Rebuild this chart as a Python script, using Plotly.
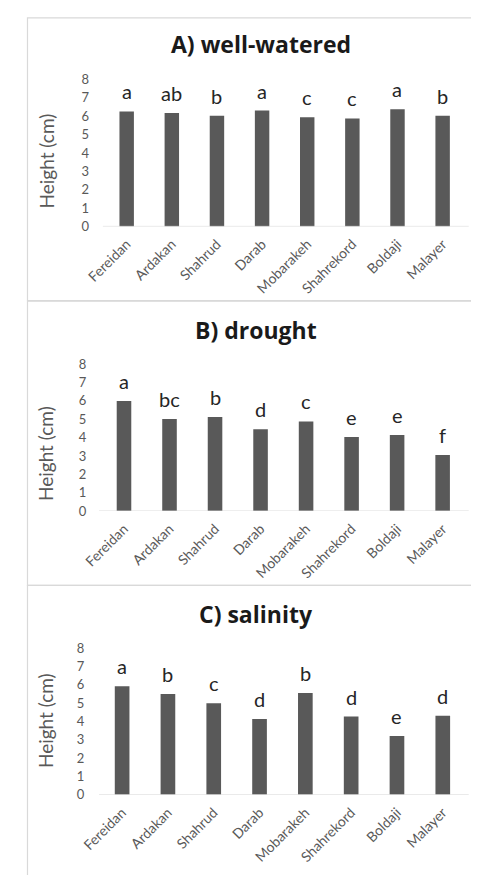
import plotly.graph_objects as go

W, H = 479, 875
OFF = 8  # page offset of the figure inside the browser window

sites = ["Fereidan", "Ardakan", "Shahrud", "Darab", "Mobarakeh", "Shahrekord", "Boldaji", "Malayer"]
well_watered = [6.26, 6.18, 6.02, 6.31, 5.95, 5.88, 6.38, 6.02]
drought = [5.99, 5.01, 5.13, 4.46, 4.88, 4.03, 4.15, 3.05]
salinity = [5.93, 5.50, 5.00, 4.14, 5.55, 4.27, 3.21, 4.32]
letters_ww = ["a", "ab", "b", "a", "c", "c", "a", "b"]
letters_dr = ["a", "bc", "b", "d", "c", "e", "e", "f"]
letters_sa = ["a", "b", "c", "d", "b", "d", "e", "d"]
titles = ["A) well-watered", "B) drought", "C) salinity"]
y_ticks = [0, 1, 2, 3, 4, 5, 6, 7, 8]

FONT = "Lato, Open Sans, sans-serif"
TFONT = "Open Sans, Lato, sans-serif"
GRAY = "#595959"

def px_x(x):
    return (x - OFF) / W

def px_y(y):
    return 1 - (y - OFF) / H

panels = [
    dict(vals=well_watered, letters=letters_ww, title=titles[0],
         xd=(88.3, 464.3), yd=(72.7, 222.3), box=(8.5, 10, 500, 298),
         tpos=(252, 37), ytpos=156, base=(87, 468)),
    dict(vals=drought, letters=letters_dr, title=titles[1],
         xd=(85.3, 464.5), yd=(362.7, 512.3), box=(8.5, 298.5, 500, 588),
         tpos=(246, 328), ytpos=454, base=(83, 468)),
    dict(vals=salinity, letters=letters_sa, title=titles[2],
         xd=(83.2, 464.8), yd=(652, 801.3), box=(8.5, 588, 500, 900),
         tpos=(246, 617), ytpos=726, base=(83, 468)),
]

fig = go.Figure()
annotations = []
shapes = []
layout_axes = {}

for i, p in enumerate(panels):
    n = "" if i == 0 else str(i + 1)
    xa, ya = "x" + n, "y" + n
    fig.add_trace(go.Bar(x=sites, y=p["vals"], xaxis=xa, yaxis=ya,
                         marker=dict(color=GRAY, line=dict(width=0)),
                         width=0.32, showlegend=False, hoverinfo="x+y"))
    layout_axes["xaxis" + n] = dict(
        domain=[px_x(p["xd"][0]), px_x(p["xd"][1])], anchor=ya,
        type="category", categoryorder="array", categoryarray=sites,
        range=[-0.5, 7.5], tickangle=-45, showline=False, showgrid=False,
        ticks="", ticklabelstandoff=6,
        tickfont=dict(family=FONT, size=14, color=GRAY), fixedrange=True)
    layout_axes["yaxis" + n] = dict(
        domain=[px_y(p["yd"][1]), px_y(p["yd"][0])], anchor=xa,
        range=[0, 8], tickvals=y_ticks, showgrid=False, showline=False,
        zeroline=False, ticks="", ticklabelstandoff=14,
        tickfont=dict(family=FONT, size=13, color=GRAY), fixedrange=True)
    for s, v, l in zip(sites, p["vals"], p["letters"]):
        annotations.append(dict(x=s, y=v, xref=xa, yref=ya, text=l, showarrow=False,
                                yanchor="bottom", yshift=6,
                                font=dict(family=FONT, size=20, color="#262626")))
    annotations.append(dict(x=px_x(p["tpos"][0]), y=px_y(p["tpos"][1]), xref="paper", yref="paper",
                            text="<b>" + p["title"] + "</b>", showarrow=False,
                            xanchor="center", yanchor="middle",
                            font=dict(family=TFONT, size=23, color="#1a1a1a")))
    annotations.append(dict(x=px_x(28), y=px_y(p["ytpos"]), xref="paper", yref="paper",
                            text="Height (cm)", textangle=-90, showarrow=False,
                            xanchor="center", yanchor="middle",
                            font=dict(family=FONT, size=19, color=GRAY)))
    shapes.append(dict(type="line", xref="paper", yref=ya,
                       x0=px_x(p["base"][0]), x1=px_x(p["base"][1]), y0=0, y1=0,
                       line=dict(color="#d9d9d9", width=1)))
    bx0, by0, bx1, by1 = p["box"]
    shapes.append(dict(type="rect", xref="paper", yref="paper",
                       x0=px_x(bx0), x1=px_x(bx1), y0=px_y(by1), y1=px_y(by0),
                       line=dict(color="#d9d9d9", width=1.2), fillcolor="rgba(0,0,0,0)",
                       layer="below"))

fig.update_layout(width=W, height=H, margin=dict(l=0, r=0, t=0, b=0),
                  paper_bgcolor="white", plot_bgcolor="white",
                  annotations=annotations, shapes=shapes, **layout_axes)

fig.write_html("out.html")
